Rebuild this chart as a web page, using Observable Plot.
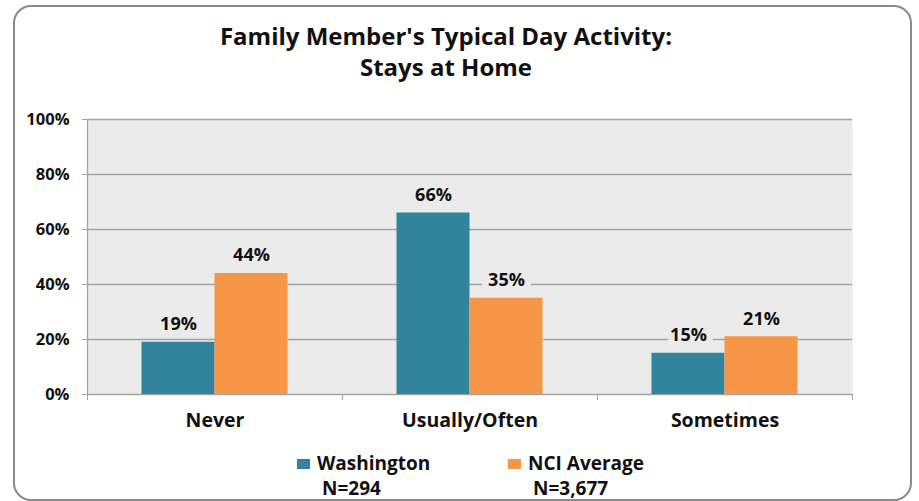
<!DOCTYPE html>
<html>
<head>
<meta charset="utf-8">
<script src="https://cdn.jsdelivr.net/npm/d3@7"></script>
<script src="https://cdn.jsdelivr.net/npm/@observablehq/plot@0.6"></script>
<style>
  html, body { margin: 0; padding: 0; background: #fff; }
  #wrap { position: relative; width: 919px; height: 501px; overflow: hidden; font-family: "Open Sans", sans-serif; font-weight: bold; color: #111; }
  #wrap svg { position: absolute; left: 0; top: 0; }
  .border { position: absolute; left: 13px; top: 5px; width: 899px; height: 496px; border: 2.5px solid #8a8a8a; border-radius: 18px; box-sizing: border-box; }
  .title { position: absolute; left: 0; width: 892px; text-align: center; font-size: 24px; line-height: 31px; top: 20px; }
  .leg { position: absolute; font-size: 19px; line-height: 22px; white-space: nowrap; }
  .sw { position: absolute; width: 13px; height: 10px; }
</style>
</head>
<body>
<div id="wrap">
  <div class="border"></div>
  <div class="title" id="title"></div>
</div>
<script>
const titleLines = ["Family Member's Typical Day Activity:", "Stays at Home"];
const categories = ["Never", "Usually/Often", "Sometimes"];
const seriesNames = ["Washington", "NCI Average"];
const seriesN = ["N=294", "N=3,677"];
const washington = [19, 66, 15];
const nciAverage = [44, 35, 21];
const yTicks = [0, 20, 40, 60, 80, 100];
const colors = ["#31849b", "#f79646"];

const seriesValues = [washington, nciAverage];
const rows = [];
seriesNames.forEach((s, si) => categories.forEach((c, ci) => rows.push({category: c, ci, series: s, si, value: seriesValues[si][ci]})));

// grouped layout within each category band (fractions of the band)
const outerPad = 0.2137, barW = 0.2863;
const x1 = d => d.ci + outerPad + d.si * barW;
const x2 = d => d.ci + outerPad + (d.si + 1) * barW;
const xc = d => d.ci + outerPad + (d.si + 0.5) * barW;

const chart = Plot.plot({
  width: 919,
  height: 501,
  marginLeft: 87,
  marginRight: 67,
  marginTop: 119,
  marginBottom: 107,
  style: {fontFamily: "Open Sans", fontWeight: "bold", background: "transparent", color: "#111"},
  x: {type: "linear", domain: [0, categories.length], axis: null},
  y: {domain: [0, 100], axis: null},
  color: {domain: seriesNames, range: colors},
  marks: [
    Plot.frame({fill: "#ebebeb", stroke: null}),
    Plot.ruleY(yTicks, {stroke: "#a3a3a3", strokeWidth: 1.3}),
    Plot.rectY(rows, {x1, x2, y: "value", fill: "series"}),
    Plot.ruleX([0], {stroke: "#a3a3a3", strokeWidth: 1.3}),
    Plot.axisX({ticks: d3.range(categories.length + 1), tickSize: 6, tickFormat: () => "", stroke: "#a3a3a3", label: null}),
    Plot.axisY({ticks: yTicks, tickSize: 5, tickPadding: 13, tickFormat: d => d + "%", fontSize: 16.5, fill: "#111", stroke: "#a3a3a3", label: null}),
    Plot.text(categories, {x: (d, i) => i + 0.5, frameAnchor: "bottom", dy: 32, text: d => d, fontSize: 19.5, fill: "#111"}),
    Plot.text(rows, {x: xc, y: "value", dy: -18, text: d => d.value + "%", fontSize: 18, fill: "#111", stroke: "#ebebeb", strokeWidth: 13})
  ]
});
const wrap = document.getElementById("wrap");
wrap.insertBefore(chart, wrap.firstChild);
document.getElementById("title").innerHTML = titleLines.join("<br>");

// legend
const legPos = [{sw: 297, tx: 317, nx: 322}, {sw: 508, tx: 528, nx: 533}];
seriesNames.forEach((s, i) => {
  const sw = document.createElement("div");
  sw.className = "sw"; sw.style.left = legPos[i].sw + "px"; sw.style.top = "459px"; sw.style.background = colors[i];
  wrap.appendChild(sw);
  const t = document.createElement("div");
  t.className = "leg"; t.style.left = legPos[i].tx + "px"; t.style.top = "452px"; t.textContent = s;
  wrap.appendChild(t);
  const n = document.createElement("div");
  n.className = "leg"; n.style.left = legPos[i].nx + "px"; n.style.top = "477px"; n.textContent = seriesN[i];
  wrap.appendChild(n);
});
</script>
</body>
</html>
